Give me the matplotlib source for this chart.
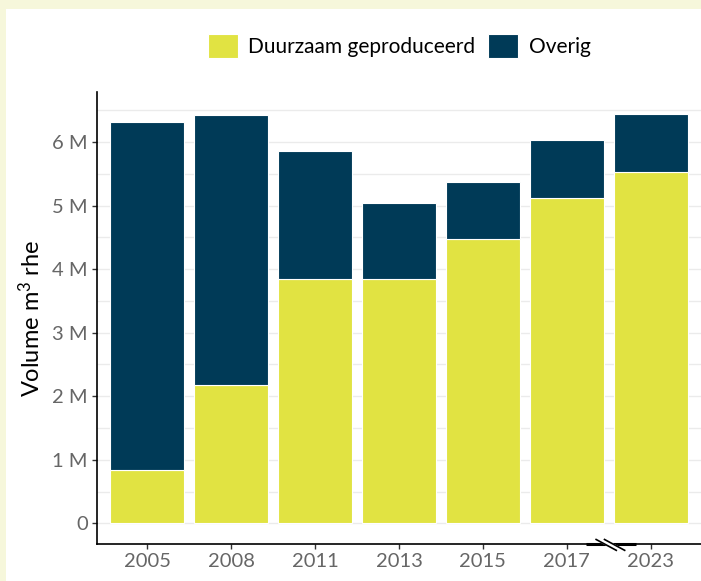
import matplotlib
matplotlib.use("Agg")
import matplotlib.pyplot as plt
import matplotlib.transforms as mtransforms
from matplotlib.patches import Rectangle
import numpy as np

years = ["2005", "2008", "2011", "2013", "2015", "2017", "2023"]
duurzaam = [0.84, 2.18, 3.85, 3.84, 4.48, 5.12, 5.53]   # million m3
totaal = [6.31, 6.43, 5.86, 5.04, 5.37, 6.03, 6.45]
overig = [t - d for t, d in zip(totaal, duurzaam)]
yticks = [0, 1, 2, 3, 4, 5, 6]
ytick_labels = ["0", "1 M", "2 M", "3 M", "4 M", "5 M", "6 M"]
series_names = ["Duurzaam geproduceerd", "Overig"]

YELLOW = "#e1e342"
NAVY = "#003a57"
CREAM = "#f6f7db"

plt.rcParams['font.family'] = ['Lato', 'DejaVu Sans']
plt.rcParams['mathtext.fontset'] = 'custom'
plt.rcParams['mathtext.rm'] = 'Lato'
plt.rcParams['mathtext.it'] = 'Lato:italic'

fig = plt.figure(figsize=(7.01, 5.81), dpi=100, facecolor=CREAM)
fig.patches.append(Rectangle((6/701, 0), 1 - 6/701, 1 - 9/581, transform=fig.transFigure,
                             facecolor="white", edgecolor="none", zorder=-10))

ax = fig.add_axes([97/701, 1 - 544/581, 1 - 97/701, (544 - 92)/581])
ax.set_facecolor("white")
x = np.arange(len(years))
ax.bar(x, duurzaam, width=0.88, color=YELLOW, edgecolor="white", linewidth=0.8,
       label=series_names[0], zorder=3)
ax.bar(x, overig, bottom=duurzaam, width=0.88, color=NAVY, edgecolor="white", linewidth=0.8,
       label=series_names[1], zorder=3)

ax.set_xlim(-0.6, len(years) - 0.4)
ax.set_ylim(-0.326, 6.79)
ax.set_yticks(yticks)
ax.set_yticklabels(ytick_labels)
ax.set_yticks(np.arange(0.5, 7, 1), minor=True)
ax.set_xticks(x)
ax.set_xticklabels(years)
ax.grid(axis="y", which="both", color="#ebebeb", linewidth=1.0, zorder=0)
ax.tick_params(axis="y", which="minor", length=0)
ax.tick_params(axis="both", which="major", labelsize=14.5, labelcolor="#666666",
               color="#333333", length=3.5, width=1.0, pad=3)
for s in ["top", "right"]:
    ax.spines[s].set_visible(False)
for s in ["left", "bottom"]:
    ax.spines[s].set_color("black")
    ax.spines[s].set_linewidth(1.2)

ax.set_ylabel("Volume m$^3$ rhe", fontsize=17, color="black", labelpad=6)

# axis break between 2017 and 2023
trans = mtransforms.blended_transform_factory(ax.transData, ax.transAxes)
bx = (x[-2] + x[-1]) / 2
ax.plot([bx - 0.27, bx + 0.33], [0, 0], color="black", lw=2.2, transform=trans,
        clip_on=False, zorder=5, solid_capstyle="butt")
ax.fill([bx - 0.15, bx - 0.05, bx + 0.19, bx + 0.09],
        [0.010, 0.010, -0.014, -0.014], color="white", transform=trans,
        clip_on=False, zorder=6)
ax.plot([bx - 0.15, bx + 0.09], [0.010, -0.014], color="black", lw=1.2,
        transform=trans, clip_on=False, zorder=7)
ax.plot([bx - 0.05, bx + 0.19], [0.010, -0.014], color="black", lw=1.2,
        transform=trans, clip_on=False, zorder=7)

leg = fig.legend(loc="center", bbox_to_anchor=(399/701, 1 - 46/581), ncol=2,
                 frameon=False, fontsize=15, handlelength=1.45, handleheight=1.45,
                 handletextpad=0.5, columnspacing=0.6)

fig.savefig("out.png", dpi=100, facecolor=CREAM)
